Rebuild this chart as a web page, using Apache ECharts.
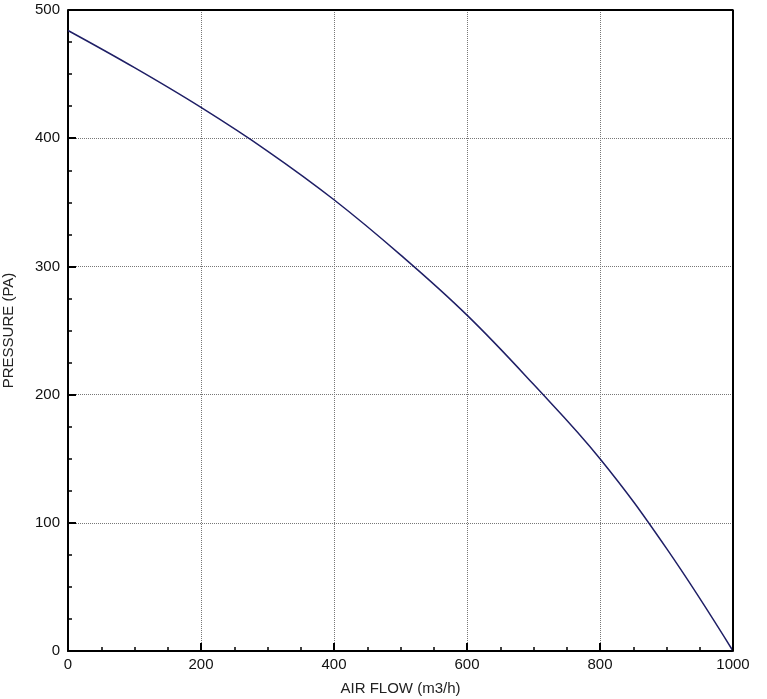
<!DOCTYPE html>
<html>
<head>
<meta charset="UTF-8">
<script src="https://cdn.jsdelivr.net/npm/echarts@6/dist/echarts.min.js"></script>
<style>html,body{margin:0;background:#fff}#c{width:767px;height:699px}</style>
</head>
<body>
<div id="c"></div>
<script>
// air flow (m3/h) vs pressure (Pa)
var flow = [0, 100, 200, 300, 400, 500, 600, 700, 800, 900, 1000];
var pressure = [484, 455, 424, 390, 352, 309, 262, 208, 150, 80, 0];

var chart = echarts.init(document.getElementById('c'));
var axisText = {color: '#111', fontSize: 15, fontFamily: 'Liberation Sans, Arial'};
chart.setOption({
    animation: false,
    grid: {left: 68, right: 34, top: 10, bottom: 48, containLabel: false, outerBoundsMode: 'none'},
    xAxis: {
        type: 'value', min: 0, max: 1000, interval: 200,
        name: 'AIR FLOW (m3/h)', nameLocation: 'middle', nameGap: 30,
        nameTextStyle: {color: '#222', fontSize: 15, fontFamily: 'Liberation Sans, Arial'},
        axisLine: {show: true, lineStyle: {color: '#000', width: 2}},
        axisTick: {inside: true, length: 8, lineStyle: {color: '#000', width: 2}},
        minorTick: {show: true, splitNumber: 4, length: 4, lineStyle: {color: '#000', width: 1.5}},
        axisLabel: Object.assign({margin: 6, formatter: function (v) { return String(v); }}, axisText),
        splitLine: {show: true, lineStyle: {color: '#777', type: 'dotted'}}
    },
    yAxis: {
        type: 'value', min: 0, max: 500, interval: 100,
        name: 'PRESSURE (PA)', nameLocation: 'middle', nameGap: 52,
        nameTextStyle: {color: '#222', fontSize: 15, fontFamily: 'Liberation Sans, Arial'},
        axisLine: {show: true, lineStyle: {color: '#000', width: 2}},
        axisTick: {inside: true, length: 8, lineStyle: {color: '#000', width: 2}},
        minorTick: {show: true, splitNumber: 4, length: 4, lineStyle: {color: '#000', width: 1.5}},
        axisLabel: Object.assign({margin: 8}, axisText),
        splitLine: {show: true, lineStyle: {color: '#777', type: 'dotted'}}
    },
    series: [{
        type: 'line', smooth: 0.4, symbol: 'none',
        data: flow.map(function (f, i) { return [f, pressure[i]]; }),
        lineStyle: {color: '#1f1f66', width: 1.5}
    }, {
        // frame top/right
        type: 'line', symbol: 'none', silent: true,
        data: [[0, 500], [1000, 500], [1000, 0]],
        lineStyle: {color: '#000', width: 2}
    }]
});
</script>
</body>
</html>
